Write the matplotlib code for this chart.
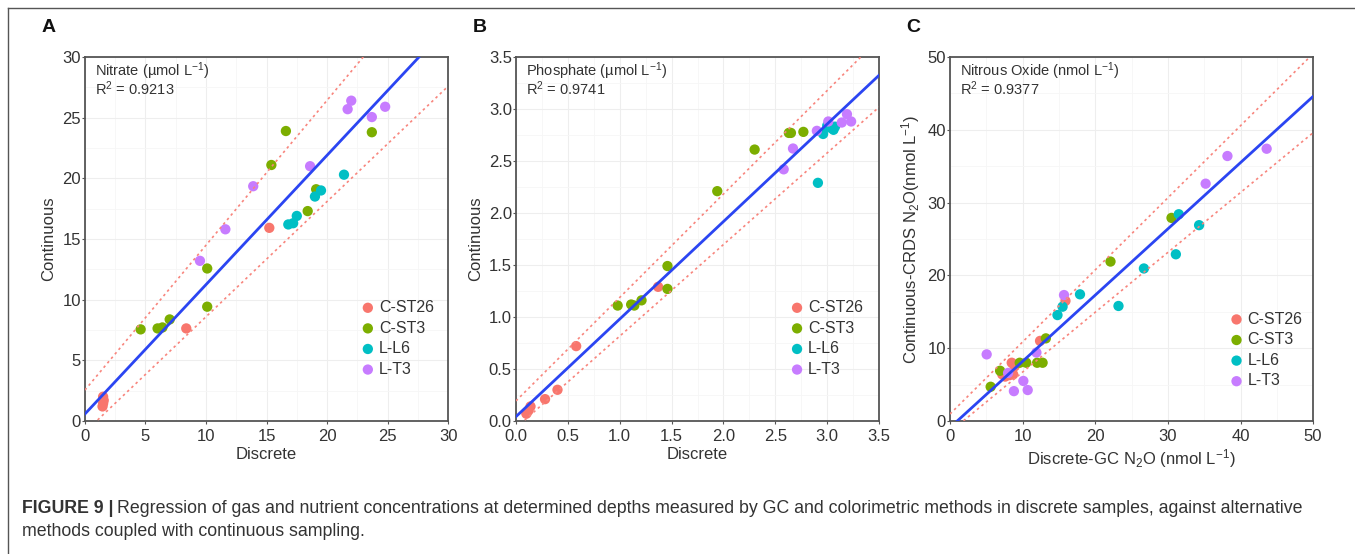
import numpy as np
import matplotlib.pyplot as plt
from matplotlib.lines import Line2D

plt.rcParams['font.family'] = ['Liberation Sans', 'DejaVu Sans']
plt.rcParams['mathtext.fontset'] = 'custom'
plt.rcParams['mathtext.rm'] = 'Liberation Sans'
plt.rcParams['mathtext.it'] = 'Liberation Sans:italic'

groups = ["C-ST26", "C-ST3", "L-L6", "L-T3"]
colors = ["#F8766D", "#7CAE00", "#00BFC4", "#C77CFF"]

# Panel A - nitrate
a_x = {
    "C-ST26": [1.45, 1.5, 1.55, 1.5, 8.37, 15.23],
    "C-ST3": [4.6, 6.0, 6.4, 7.0, 10.1, 10.1, 15.4, 16.6, 18.4, 19.1, 23.7],
    "L-L6": [16.8, 17.2, 17.5, 19.0, 19.5, 21.4],
    "L-T3": [9.5, 11.6, 13.9, 18.6, 21.7, 22.0, 23.7, 24.8],
}
a_y = {
    "C-ST26": [1.2, 1.45, 1.7, 2.0, 7.63, 15.92],
    "C-ST3": [7.55, 7.63, 7.71, 8.37, 12.57, 9.42, 21.1, 23.9, 17.3, 19.1, 23.8],
    "L-L6": [16.2, 16.3, 16.9, 18.5, 19.0, 20.3],
    "L-T3": [13.2, 15.8, 19.35, 21.0, 25.7, 26.4, 25.05, 25.9],
}
# Panel B - phosphate
b_x = {
    "C-ST26": [0.10, 0.12, 0.14, 0.28, 0.40, 0.58, 1.37],
    "C-ST3": [0.98, 1.11, 1.14, 1.21, 1.46, 1.46, 1.94, 2.30, 2.63, 2.65, 2.77],
    "L-L6": [2.91, 2.96, 3.00, 3.03, 3.06, 3.075],
    "L-T3": [2.58, 2.67, 2.90, 3.01, 3.14, 3.19, 3.23],
}
b_y = {
    "C-ST26": [0.07, 0.10, 0.14, 0.21, 0.30, 0.72, 1.29],
    "C-ST3": [1.11, 1.12, 1.11, 1.16, 1.49, 1.27, 2.21, 2.61, 2.77, 2.77, 2.78],
    "L-L6": [2.29, 2.76, 2.84, 2.82, 2.80, 2.83],
    "L-T3": [2.42, 2.62, 2.79, 2.88, 2.87, 2.95, 2.88],
}
# Panel C - nitrous oxide
c_x = {
    "C-ST26": [7.2, 7.6, 8.2, 8.5, 8.7, 8.9, 12.4, 15.9],
    "C-ST3": [5.6, 6.9, 9.6, 10.5, 12.0, 12.75, 13.2, 22.1, 30.5],
    "L-L6": [14.8, 15.5, 17.9, 23.2, 26.7, 31.1, 31.5, 34.3],
    "L-T3": [5.05, 8.0, 8.8, 10.7, 10.1, 11.9, 15.7, 35.2, 38.2, 43.6],
}
c_y = {
    "C-ST26": [6.4, 6.1, 6.3, 8.0, 6.4, 7.5, 11.0, 16.5],
    "C-ST3": [4.7, 6.9, 8.0, 8.0, 8.0, 8.0, 11.35, 21.9, 27.9],
    "L-L6": [14.55, 15.7, 17.4, 15.8, 20.95, 22.9, 28.4, 26.9],
    "L-T3": [9.15, 6.6, 4.1, 4.25, 5.5, 9.4, 17.3, 32.6, 36.4, 37.4],
}

# slope, intercept of fit / upper / lower bands
fits = {
    "A": [(1.066, 0.58), (1.194, 2.55), (0.95, -0.91)],
    "B": [(0.938, 0.042), (0.995, 0.193), (0.881, -0.065)],
    "C": [(0.910, -0.91), (0.99, 0.96), (0.822, -1.5)],
}
r2 = {"A": "0.9213", "B": "0.9741", "C": "0.9377"}
titles = {"A": "Nitrate (µmol L$^{-1}$)", "B": "Phosphate (µmol L$^{-1}$)",
          "C": "Nitrous Oxide (nmol L$^{-1}$)"}
limits = {"A": 30, "B": 3.5, "C": 50}
steps = {"A": 5, "B": 0.5, "C": 10}
xlabels = {"A": "Discrete", "B": "Discrete", "C": "Discrete-GC N$_2$O (nmol L$^{-1}$)"}
ylabels = {"A": "Continuous", "B": "Continuous", "C": "Continuous-CRDS N$_2$O(nmol L$^{-1}$)"}
data = {"A": (a_x, a_y), "B": (b_x, b_y), "C": (c_x, c_y)}

fig = plt.figure(figsize=(13.55, 5.54), dpi=100)

# outer frame lines
fig.add_artist(Line2D([0.006, 1.0], [0.986, 0.986], color="#555555", lw=1.0))
fig.add_artist(Line2D([0.006, 0.006], [0.0, 0.986], color="#555555", lw=1.0))

lefts = {"A": 0.0627, "B": 0.3808, "C": 0.7011}
leg_pos = {"A": (0.735, 0.35), "B": (0.73, 0.35), "C": (0.745, 0.318)}
txt = "#333333"

for key in ["A", "B", "C"]:
    ax = fig.add_axes([lefts[key], 0.2401, 0.2680, 0.657])
    lim = limits[key]
    ax.set_xlim(0, lim)
    ax.set_ylim(0, lim)
    ticks = np.arange(0, lim + steps[key] / 2, steps[key])
    ax.set_xticks(ticks)
    ax.set_yticks(ticks)
    ax.set_xticks(ticks[:-1] + steps[key] / 2, minor=True)
    ax.set_yticks(ticks[:-1] + steps[key] / 2, minor=True)
    if key == "B":
        ax.set_xticklabels([f"{t:.1f}" for t in ticks])
        ax.set_yticklabels([f"{t:.1f}" for t in ticks])
    else:
        ax.set_xticklabels([f"{int(t)}" for t in ticks])
        ax.set_yticklabels([f"{int(t)}" for t in ticks])
    ax.grid(True, which="major", color="#EEEEEE", lw=0.8)
    ax.grid(True, which="minor", color="#F6F6F6", lw=0.6)
    ax.set_axisbelow(True)
    ax.tick_params(which="major", length=2, width=0.8, color="#555555",
                   labelsize=12, labelcolor=txt, pad=1)
    ax.tick_params(axis="x", which="major", pad=4)
    ax.tick_params(which="minor", length=0)
    for s in ax.spines.values():
        s.set_color("#555555")
        s.set_linewidth(1.3)

    xs, ys = data[key]
    for g, col in zip(groups, colors):
        ax.scatter(xs[g], ys[g], s=55, color=col, edgecolors="none", label=g, zorder=3)

    xx = np.array([0, lim])
    (m, b), (mu, bu), (ml, bl) = fits[key]
    ax.plot(xx, mu * xx + bu, color="#F8857D", lw=1.2, ls=(0, (1.5, 2)), zorder=4)
    ax.plot(xx, ml * xx + bl, color="#F8857D", lw=1.2, ls=(0, (1.5, 2)), zorder=4)
    ax.plot(xx, m * xx + b, color="#2B45F2", lw=2.0, zorder=5)

    ax.text(0.027, 0.962, titles[key], transform=ax.transAxes, fontsize=10.5,
            color=txt, va="center", ha="left")
    ax.text(0.027, 0.912, "R$^2$ = " + r2[key], transform=ax.transAxes, fontsize=10.5,
            color=txt, va="center", ha="left")

    ax.set_xlabel(xlabels[key], fontsize=12, color=txt, labelpad=2)
    ax.set_ylabel(ylabels[key], fontsize=12, color=txt, labelpad=4)

    ax.legend(loc="upper left", bbox_to_anchor=leg_pos[key], frameon=False,
              fontsize=11.5, handletextpad=0.1, labelspacing=0.35,
              handlelength=1.2, borderaxespad=0, labelcolor=txt)

    ax.text(-0.10, 1.08, key, transform=ax.transAxes, fontsize=14, fontweight="bold",
            color="#111111", ha="center", va="center")

# caption
cap_size = 12.8
bold = fig.text(0.016, 0.083, "FIGURE 9 |", fontsize=cap_size, fontweight="bold",
                color=txt, va="center", ha="left")
renderer = fig.canvas.get_renderer()
bb = bold.get_window_extent(renderer)
x_next = (bb.x1 + 4) / fig.bbox.width
fig.text(x_next, 0.083,
         "Regression of gas and nutrient concentrations at determined depths measured by GC "
         "and colorimetric methods in discrete samples, against alternative",
         fontsize=cap_size, color=txt, va="center", ha="left")
fig.text(0.016, 0.040, "methods coupled with continuous sampling.", fontsize=cap_size,
         color=txt, va="center", ha="left")

fig.savefig("out.png", dpi=100)
